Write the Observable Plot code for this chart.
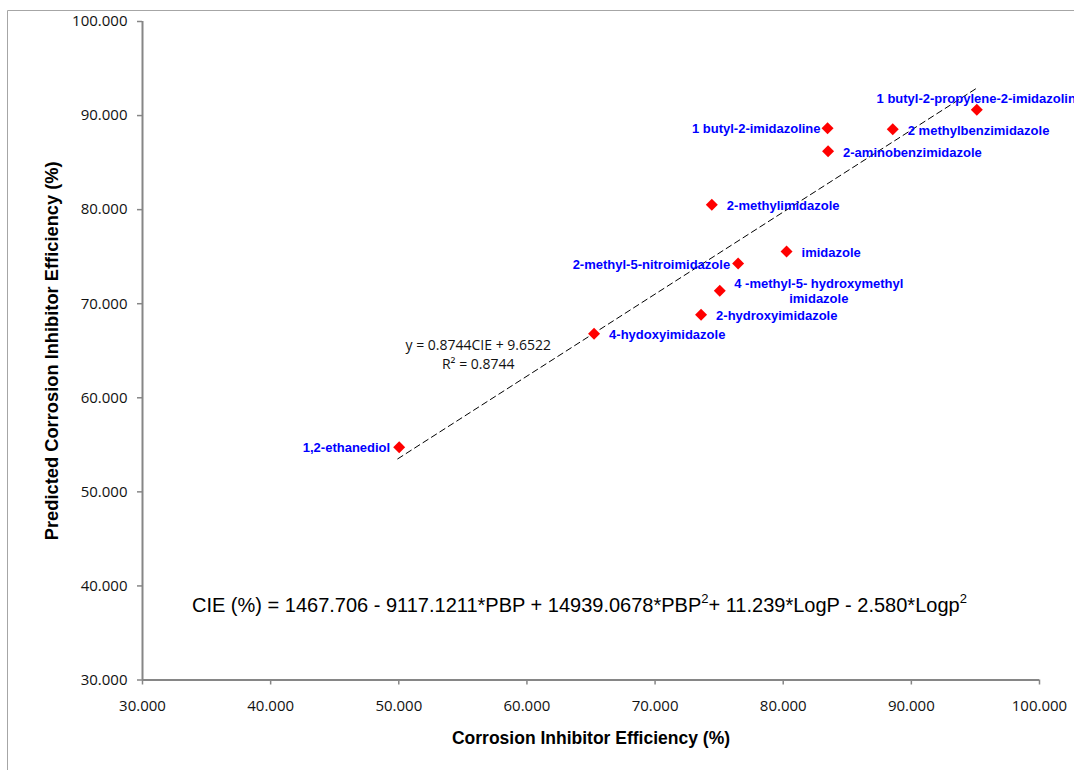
<!DOCTYPE html>
<html>
<head>
<meta charset="utf-8">
<script src="https://cdn.jsdelivr.net/npm/d3@7"></script>
<script src="https://cdn.jsdelivr.net/npm/@observablehq/plot@0.6"></script>
<style>
  html, body { margin: 0; padding: 0; background: #fff; overflow: hidden; }
  #chart { position: relative; width: 1074px; height: 770px; }
</style>
</head>
<body>
<div id="chart"></div>
<script>
// ---- Data ----
const compounds = [
  "1,2-ethanediol",
  "4-hydoxyimidazole",
  "2-hydroxyimidazole",
  "4 -methyl-5- hydroxymethyl\nimidazole",
  "2-methyl-5-nitroimidazole",
  "imidazole",
  "2-methylimidazole",
  "2-aminobenzimidazole",
  "1 butyl-2-imidazoline",
  "2 methylbenzimidazole",
  "1 butyl-2-propylene-2-imidazoline"
];
const observedCIE = [50.03, 65.24, 73.59, 75.05, 76.48, 80.26, 74.43, 83.50, 83.46, 88.55, 95.11];
const predictedCIE = [54.75, 66.80, 68.82, 71.37, 74.28, 75.55, 80.52, 86.21, 88.66, 88.55, 90.61];

const trendX = [49.92, 95.03];
const trendY = [53.51, 92.85];

const tickValues = [30, 40, 50, 60, 70, 80, 90, 100];

const xTitle = "Corrosion Inhibitor Efficiency (%)";
const yTitle = "Predicted Corrosion Inhibitor Efficiency (%)";
const trendLabel = "y = 0.8744CIE + 9.6522\nR\u00B2 = 0.8744";
const trendLabelAt = [56.2, 64.7];
const equationAt = [33.9, 37.9];
const equationParts = [
  ["CIE (%) = 1467.706 - 9117.1211*PBP + 14939.0678*PBP", false],
  ["2", true],
  ["+ 11.239*LogP - 2.580*Logp", false],
  ["2", true]
];

// ---- Label placement (styling, separate from data) ----
const labelPlacement = {
  "1,2-ethanediol": {dx: -9, dy: 0, anchor: "end"},
  "1 butyl-2-imidazoline": {dx: -7, dy: 0, anchor: "end"},
  "2-methyl-5-nitroimidazole": {dx: -8, dy: 1, anchor: "end"},
  "4 -methyl-5- hydroxymethyl\nimidazole": {dx: 99, dy: 0, anchor: "middle"},
  "1 butyl-2-propylene-2-imidazoline": {dx: 3, dy: -11, anchor: "middle"}
};
const defaultPlacement = {dx: 15, dy: 1, anchor: "start"};

const points = compounds.map((name, i) => ({name, x: observedCIE[i], y: predictedCIE[i]}));
const trend = trendX.map((x, i) => ({x, y: trendY[i]}));

function labelMark(anchor) {
  const subset = points.filter(d => (labelPlacement[d.name] || defaultPlacement).anchor === anchor);
  const marks = [];
  const groups = d3.groups(subset, d => { const p = labelPlacement[d.name] || defaultPlacement; return p.dx + "," + p.dy; });
  for (const [key, arr] of groups) {
    const p = labelPlacement[arr[0].name] || defaultPlacement;
    marks.push(Plot.text(arr, {
      x: "x", y: "y", text: "name",
      textAnchor: anchor, dx: p.dx, dy: p.dy,
      lineAnchor: "middle", lineHeight: 1.1,
      fill: "#0000ff", fontWeight: "bold", fontSize: 13,
      fontFamily: "Liberation Sans, Arial, sans-serif"
    }));
  }
  return marks;
}

const axisGray = "#868686";
const tickFont = "Open Sans, sans-serif";

const plot = Plot.plot({
  width: 1074,
  height: 770,
  marginLeft: 142,
  marginRight: 35,
  marginTop: 21,
  marginBottom: 90.5,
  style: {background: "#fff", overflow: "visible"},
  x: {domain: [30, 100]},
  y: {domain: [30, 100]},
  marks: [
    Plot.axisX({ticks: tickValues, tickFormat: d3.format(".3f"), tickSize: 5, tickPadding: 15,
      stroke: axisGray, strokeWidth: 1.5, fill: "#111", fontSize: 15, fontFamily: tickFont, label: null}),
    Plot.axisY({ticks: tickValues, tickFormat: d3.format(".3f"), tickSize: 5, tickPadding: 10,
      stroke: axisGray, strokeWidth: 1.5, fill: "#111", fontSize: 15, fontFamily: tickFont, label: null}),
    Plot.ruleX([30], {stroke: axisGray, strokeWidth: 2}),
    Plot.ruleY([30], {stroke: axisGray, strokeWidth: 2}),
    Plot.line(trend, {x: "x", y: "y", stroke: "#000", strokeWidth: 1, strokeDasharray: "6,4"}),
    Plot.dot(points, {x: "x", y: "y", symbol: "diamond2", r: 5.4, fill: "#ff0000", stroke: "none"}),
    ...labelMark("start"),
    ...labelMark("end"),
    ...labelMark("middle"),
    Plot.text([trendLabel], {x: trendLabelAt[0], y: trendLabelAt[1], text: d => d,
      textAnchor: "middle", lineAnchor: "middle", lineHeight: 1.35,
      fontSize: 14, fontFamily: tickFont, fill: "#111"}),
    Plot.text([xTitle], {frameAnchor: "bottom", dy: 58, text: d => d, textAnchor: "middle", lineAnchor: "middle",
      fontWeight: "bold", fontSize: 17.5, fontFamily: "Liberation Sans, Arial, sans-serif", fill: "#000"}),
    Plot.text([yTitle], {frameAnchor: "left", dx: -90, rotate: -90, text: d => d, textAnchor: "middle", lineAnchor: "middle",
      fontWeight: "bold", fontSize: 18.3, fontFamily: "Liberation Sans, Arial, sans-serif", fill: "#000"})
  ]
});

document.getElementById("chart").appendChild(plot);

// Equation annotation with superscripts, positioned via the plot's scales
const svg = d3.select(plot);
const sx = plot.scale("x"), sy = plot.scale("y");
const eq = svg.append("text")
  .attr("x", sx.apply(equationAt[0]))
  .attr("y", sy.apply(equationAt[1]))
  .attr("dy", "0.35em")
  .attr("text-anchor", "start")
  .attr("font-family", "Liberation Sans, Arial, sans-serif")
  .attr("font-size", 20)
  .attr("fill", "#000");
let first = true;
for (const [t, sup] of equationParts) {
  const ts = eq.append("tspan").text(t);
  if (sup) ts.attr("font-size", 13).attr("dy", -9);
  else if (!first) ts.attr("dy", 9);
  first = false;
}

// Chart area border (Excel-like frame)
svg.append("path")
  .attr("d", "M7.5,770V10.5H1074")
  .attr("fill", "none")
  .attr("stroke", "#a6a6a6")
  .attr("stroke-width", 1);
</script>
</body>
</html>
